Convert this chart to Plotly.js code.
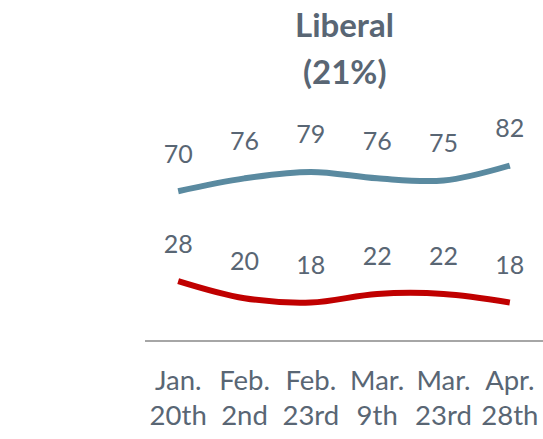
<!DOCTYPE html>
<html><head><meta charset="utf-8">
<script src="https://cdn.plot.ly/plotly-3.0.1.min.js"></script>
<style>html,body{margin:0;padding:0;background:#fff}#chart{width:543px;height:439px}</style>
</head><body><div id="chart"></div>
<script>
var categories = ["Jan.<br>20th","Feb.<br>2nd","Feb.<br>23rd","Mar.<br>9th","Mar.<br>23rd","Apr.<br>28th"];
var seriesTop = [70,76,79,76,75,82];
var seriesBottom = [28,20,18,22,22,18];
var titleLines = ["<b>Liberal</b>","<b>(21%)</b>"];
var textColor = "#596674";
function trace(vals, color){
  return {x: categories, y: vals, type:'scatter', mode:'lines+markers+text',
    line:{color:color, width:6, shape:'spline', smoothing:1},
    marker:{size:34, opacity:0, color:color},
    text: vals.map(String), textposition:'top center',
    textfont:{family:'Lato, sans-serif', size:25, color:textColor},
    hoverinfo:'none', cliponaxis:false, showlegend:false};
}
var data = [trace(seriesTop,'#5a8aa0'), trace(seriesBottom,'#c00000')];
var layout = {
  width:543, height:439,
  margin:{l:145, r:0, t:127, b:98},
  paper_bgcolor:'#fff', plot_bgcolor:'#fff',
  annotations:[
    {text:titleLines[0], xref:'paper', yref:'paper', x:0.5, y:1.48, xanchor:'center', yanchor:'middle', showarrow:false,
     font:{family:'Lato, sans-serif', size:33, color:textColor}},
    {text:titleLines[1], xref:'paper', yref:'paper', x:0.5, y:1.262, xanchor:'center', yanchor:'middle', showarrow:false,
     font:{family:'Lato, sans-serif', size:33, color:textColor}}
  ],
  xaxis:{type:'category', range:[-0.5,5.5], showgrid:false, zeroline:false, showline:false, ticks:'',
    ticklabelstandoff:20,
    tickfont:{family:'Lato, sans-serif', size:27.5, color:textColor}, fixedrange:true},
  yaxis:{range:[0,100], showgrid:false, zeroline:true, zerolinecolor:'#a6a6a6', zerolinewidth:2,
    showticklabels:false, ticks:'', showline:false, fixedrange:true},
  font:{family:'Lato, sans-serif'}
};
Plotly.newPlot('chart', data, layout, {staticPlot:true});
</script></body></html>
